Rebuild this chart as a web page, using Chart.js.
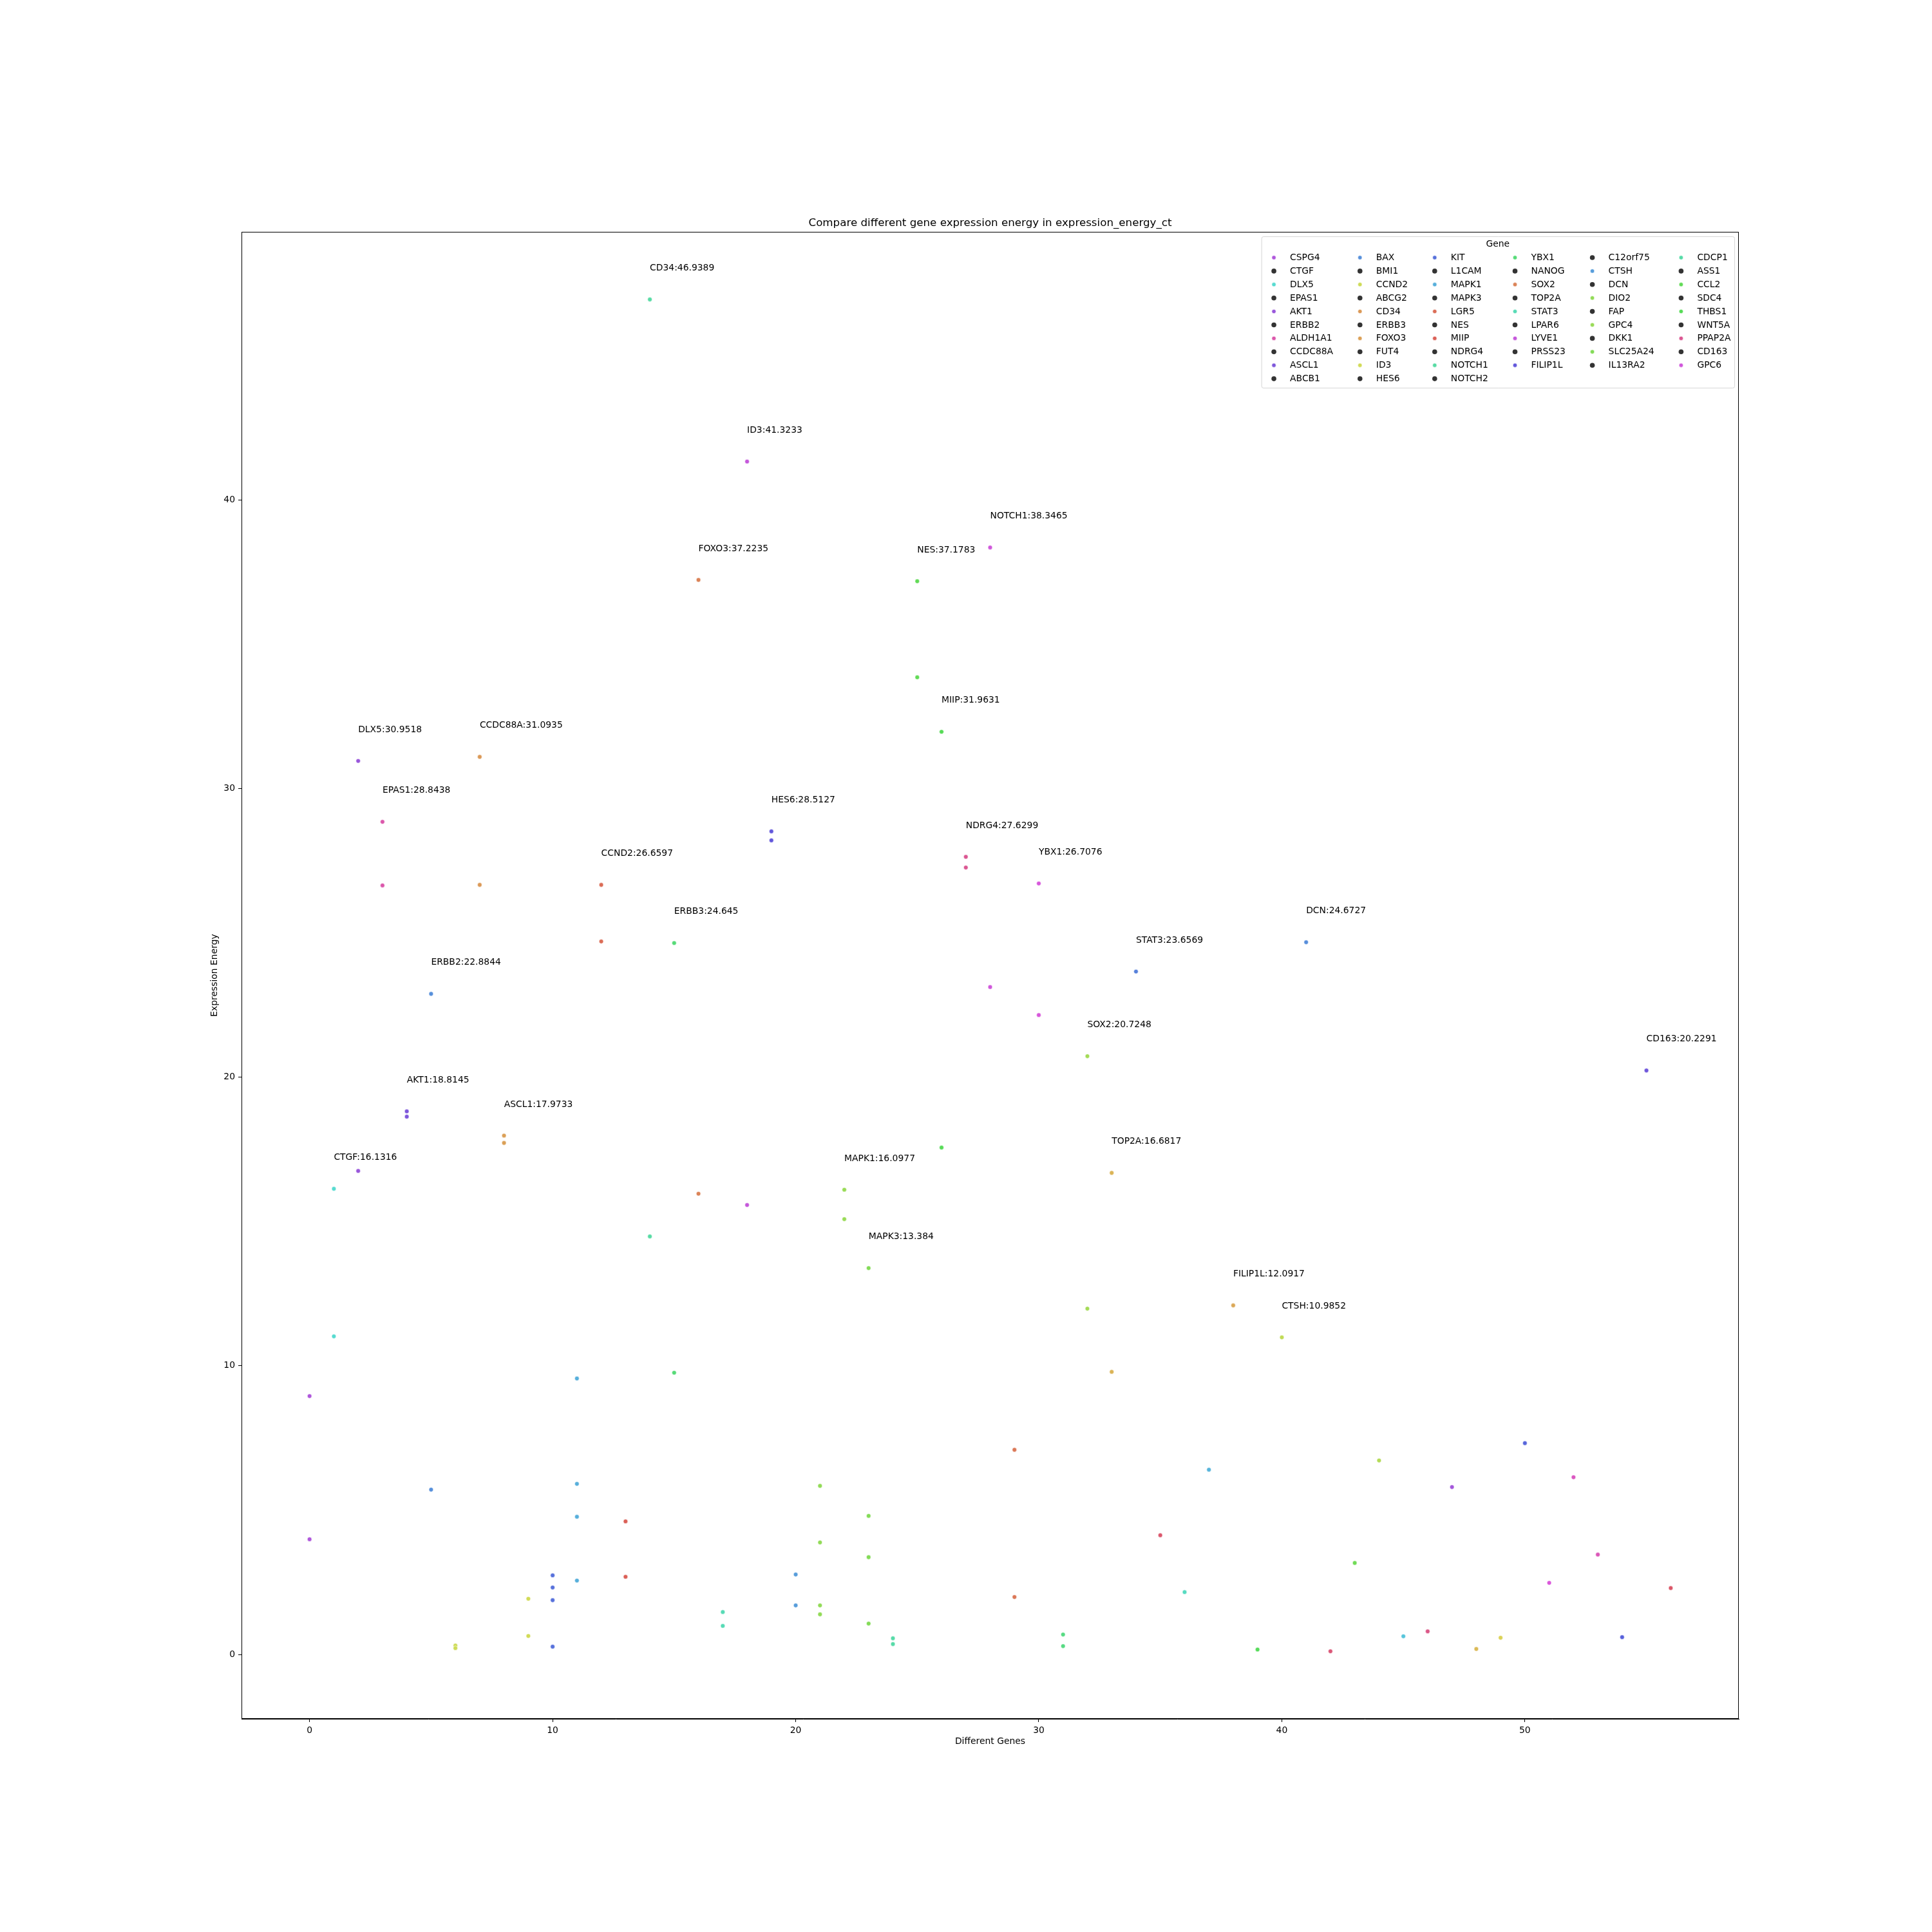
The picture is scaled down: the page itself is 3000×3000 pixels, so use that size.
<!DOCTYPE html>
<html><head><meta charset="utf-8">
<script src="https://cdn.jsdelivr.net/npm/chart.js@4.4.1/dist/chart.umd.min.js"></script>
<style>html,body{margin:0;padding:0;background:#fff}canvas{display:block}</style>
</head><body>
<canvas id="c" width="3000" height="3000"></canvas>
<script>
// ---------- data ----------
const genes = ["CSPG4","CTGF","DLX5","EPAS1","AKT1","ERBB2","ALDH1A1","CCDC88A","ASCL1","ABCB1",
  "BAX","BMI1","CCND2","ABCG2","CD34","ERBB3","FOXO3","FUT4","ID3","HES6",
  "KIT","L1CAM","MAPK1","MAPK3","LGR5","NES","MIIP","NDRG4","NOTCH1","NOTCH2",
  "YBX1","NANOG","SOX2","TOP2A","STAT3","LPAR6","LYVE1","PRSS23","FILIP1L",
  "C12orf75","CTSH","DCN","DIO2","FAP","GPC4","DKK1","SLC25A24","IL13RA2",
  "CDCP1","ASS1","CCL2","SDC4","THBS1","WNT5A","PPAP2A","CD163","GPC6"];

// expression energy measurements per gene (x position = gene index)
const energy = [
  [8.95, 3.99], [16.1316, 11.02], [30.9518, 16.75], [28.8438, 26.64], [18.8145, 18.63],
  [22.8844, 5.71], [0.31, 0.22], [31.0935, 26.66], [17.9733, 17.72], [1.93, 0.64],
  [2.74, 2.32, 1.88, 0.27], [9.56, 5.91, 4.77, 2.56], [26.6597, 24.70], [4.61, 2.69], [46.9389, 14.48],
  [24.645, 9.76], [37.2235, 15.96], [1.47, 0.99], [41.3233, 15.57], [28.5127, 28.20],
  [2.77, 1.70], [5.84, 3.88, 1.70, 1.39], [16.0977, 15.08], [13.384, 4.80, 3.37, 1.07], [0.56, 0.36],
  [37.1783, 33.85], [31.9631, 17.56], [27.6299, 27.26], [38.3465, 23.12], [7.09, 1.99],
  [26.7076, 22.15], [0.69, 0.29], [20.7248, 11.98], [16.6817, 9.79], [23.6569],
  [4.13], [2.16], [6.40], [12.0917], [0.17],
  [10.9852], [24.6727], [0.11], [3.17], [6.72],
  [0.63], [0.80], [5.80], [0.19], [0.58],
  [7.32], [2.48], [6.14], [3.46], [0.60],
  [20.2291], [2.30]
];

const xTicks = [0, 10, 20, 30, 40, 50];
const yTicks = [0, 10, 20, 30, 40];
const labelThreshold = 10;

// ---------- style ----------
const geneHue = [280, 175, 270, 322, 258, 214, 66, 30, 33, 64,
  228, 200, 10, 4, 155, 135, 20, 163, 290, 245,
  208, 93, 90, 100, 157, 115, 120, 333, 295, 15,
  298, 140, 85, 42, 221, 350, 168, 198, 37,
  122, 72, 215, 345, 108, 78, 190, 338, 275,
  45, 56, 233, 300, 312, 316, 236, 251, 352];

function hlsColor(h) {
  const l = 0.6, s = 0.65;
  const C = (1 - Math.abs(2 * l - 1)) * s;
  const hp = (h % 360) / 60;
  const X = C * (1 - Math.abs(hp % 2 - 1));
  let r = 0, g = 0, b = 0;
  if (hp < 1) { r = C; g = X; } else if (hp < 2) { r = X; g = C; }
  else if (hp < 3) { g = C; b = X; } else if (hp < 4) { g = X; b = C; }
  else if (hp < 5) { r = X; b = C; } else { r = C; b = X; }
  const m = l - C / 2;
  const to = v => Math.round((v + m) * 255).toString(16).padStart(2, '0');
  return '#' + to(r) + to(g) + to(b);
}
const geneColors = geneHue.map(hlsColor);

const FONT = '"DejaVu Sans", sans-serif';
const FS = 13.9;
Chart.defaults.font.family = FONT;
Chart.defaults.color = '#000';

const datasets = genes.map((g, i) => ({
  label: g,
  data: energy[i].map(v => ({ x: i, y: v })),
  backgroundColor: geneColors[i],
  borderColor: '#ffffff',
  borderWidth: 0.6,
  pointRadius: 3.4,
  pointHoverRadius: 3.4
}));

const extrasPlugin = {
  id: 'extras',
  afterDatasetsDraw(chart) {
    const { ctx, chartArea: a, scales: { x, y } } = chart;
    ctx.save();
    // annotations for genes whose max energy exceeds threshold
    ctx.font = `${FS}px ${FONT}`;
    ctx.fillStyle = '#000';
    ctx.textAlign = 'left';
    ctx.textBaseline = 'alphabetic';
    genes.forEach((g, i) => {
      const mx = Math.max(...energy[i]);
      if (mx > labelThreshold) {
        ctx.fillText(g + ':' + mx, x.getPixelForValue(i), y.getPixelForValue(mx + 1));
      }
    });
    // full frame (spines)
    ctx.strokeStyle = '#000';
    ctx.lineWidth = 1;
    ctx.strokeRect(Math.round(a.left) + 0.5, Math.round(a.top) + 0.5,
      Math.round(a.right - a.left) - 1, Math.round(a.bottom - a.top) - 1);
    ctx.restore();
  },
  afterDraw(chart) {
    const { ctx, chartArea: a } = chart;
    const ncol = 6;
    const n = genes.length;
    const base = Math.floor(n / ncol), extra = n % ncol;
    const counts = [];
    for (let c = 0; c < ncol; c++) counts.push(base + (c < extra ? 1 : 0));
    ctx.save();
    ctx.font = `${FS}px ${FONT}`;
    const handleLen = 2 * FS, textPad = 0.8 * FS, colSp = 2 * FS, bpad = 0.4 * FS;
    const cols = [];
    let idx = 0;
    for (let c = 0; c < ncol; c++) {
      const items = [];
      for (let r = 0; r < counts[c]; r++) items.push(idx++);
      const w = Math.max(...items.map(k => ctx.measureText(genes[k]).width));
      cols.push({ items, w: handleLen + textPad + w });
    }
    const boxW = 2 * bpad + cols.reduce((s, c) => s + c.w, 0) + colSp * (ncol - 1);
    const rowPitch = 20.9;
    const boxH = 33 + (Math.max(...counts) - 1) * rowPitch + 14;
    const right = a.right - 0.5 * FS;
    const left = right - boxW;
    const top = a.top + 0.5 * FS;
    ctx.beginPath();
    if (ctx.roundRect) ctx.roundRect(left + 0.5, top + 0.5, boxW, boxH, 3);
    else ctx.rect(left + 0.5, top + 0.5, boxW, boxH);
    ctx.fillStyle = 'rgba(255,255,255,0.8)';
    ctx.fill();
    ctx.strokeStyle = 'rgba(204,204,204,0.8)';
    ctx.lineWidth = 1;
    ctx.stroke();
    // title
    ctx.fillStyle = '#000';
    ctx.textAlign = 'center';
    ctx.textBaseline = 'middle';
    ctx.fillText('Gene', left + boxW / 2, top + 12.5);
    // entries
    ctx.textAlign = 'left';
    let cx = left + bpad;
    cols.forEach(col => {
      col.items.forEach((k, r) => {
        const yy = top + 33 + r * rowPitch;
        const mx = cx + handleLen / 2;
        ctx.beginPath();
        if (k % 2 === 0) {
          ctx.arc(mx, yy, 3.2, 0, Math.PI * 2);
          ctx.fillStyle = geneColors[k / 2];
          ctx.fill();
          ctx.strokeStyle = '#fff'; ctx.lineWidth = 0.6; ctx.stroke();
        } else {
          ctx.arc(mx, yy, 3.8, 0, Math.PI * 2);
          ctx.fillStyle = '#333333';
          ctx.fill();
        }
        ctx.fillStyle = '#000';
        ctx.fillText(genes[k], cx + handleLen + textPad, yy + 0.5);
      });
      cx += col.w + colSp;
    });
    ctx.restore();
  }
};

const tickFont = { size: FS, family: FONT };

new Chart(document.getElementById('c'), {
  type: 'scatter',
  data: { datasets },
  options: {
    responsive: false,
    animation: false,
    devicePixelRatio: 1,
    layout: { padding: { top: 320, left: 325, right: 300, bottom: 287 } },
    plugins: {
      legend: { display: false },
      tooltip: { enabled: false },
      title: {
        display: true,
        fullSize: false,
        text: 'Compare different gene expression energy in expression_energy_ct',
        font: { size: 16.7, family: FONT, weight: 'normal' },
        color: '#000',
        padding: { top: 17, bottom: 3 }
      }
    },
    scales: {
      x: {
        type: 'linear',
        min: -2.8, max: 58.8,
        afterBuildTicks: s => { s.ticks = xTicks.map(v => ({ value: v })); },
        afterFit: s => { s.height = 44; },
        ticks: { font: tickFont, color: '#000', padding: 5, maxRotation: 0, autoSkip: false },
        grid: { display: true, drawOnChartArea: false, drawTicks: true, tickLength: 5, color: '#000', lineWidth: 1 },
        border: { display: true, color: '#000', width: 1 },
        title: { display: true, text: 'Different Genes', font: tickFont, color: '#000', padding: 0 }
      },
      y: {
        type: 'linear',
        min: -2.23, max: 49.28,
        afterBuildTicks: s => { s.ticks = yTicks.map(v => ({ value: v })); },
        afterFit: s => { s.width = 50; },
        ticks: { font: tickFont, color: '#000', padding: 5, autoSkip: false },
        grid: { display: true, drawOnChartArea: false, drawTicks: true, tickLength: 5, color: '#000', lineWidth: 1 },
        border: { display: true, color: '#000', width: 1 },
        title: { display: true, text: 'Expression Energy', font: tickFont, color: '#000', padding: 0 }
      }
    }
  },
  plugins: [extrasPlugin]
});
</script>
</body></html>
